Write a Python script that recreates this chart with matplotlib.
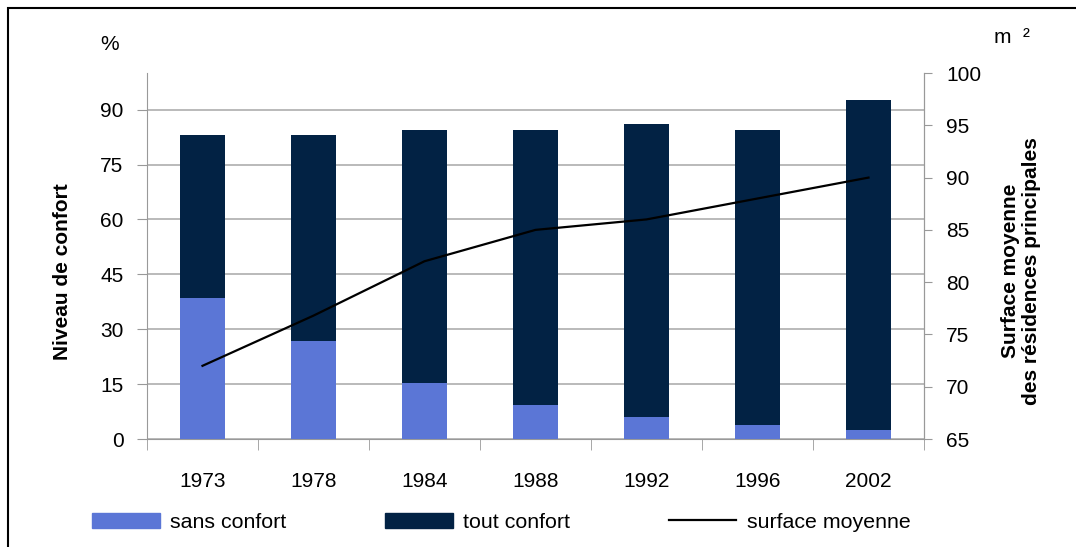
import matplotlib.pyplot as plt
from matplotlib.patches import Rectangle
from matplotlib.lines import Line2D
from matplotlib.patches import Patch
import numpy as np

plt.rcParams['font.family'] = ['Liberation Sans', 'DejaVu Sans']

years = ["1973", "1978", "1984", "1988", "1992", "1996", "2002"]
sans_confort = [38.6, 26.8, 15.3, 9.3, 6.0, 3.8, 2.5]
tout_confort = [44.6, 56.4, 69.2, 75.2, 80.2, 80.7, 90.2]
surface = [72, 76.8, 82, 85, 86, 88, 90]

light = "#5b76d6"
dark = "#022244"
grey = "#999999"
fs = 15

fig = plt.figure(figsize=(10.76, 5.47), dpi=100)
ax = fig.add_axes([147 / 1076, 0.1974, 777 / 1076, 0.6691])
ax2 = ax.twinx()

x = np.arange(len(years))
ax.bar(x, sans_confort, width=0.41, color=light, zorder=3)
ax.bar(x, tout_confort, width=0.41, bottom=sans_confort, color=dark, zorder=3)

ax.set_xlim(-0.5, len(years) - 0.5)
ax.set_ylim(0, 100)
ax.set_yticks(range(0, 91, 15))
ax.grid(axis="y", color="#b4b4b4", linewidth=1.3, zorder=0)
ax.set_axisbelow(True)

ax.set_xticks(x)
ax.set_xticklabels(years)
ax.tick_params(axis="x", which="major", length=0, pad=24, labelsize=fs)
ax.set_xticks(np.arange(-0.5, len(years), 1), minor=True)
ax.tick_params(axis="x", which="minor", length=8, color=grey, direction="out")
ax.tick_params(axis="y", length=7, color=grey, labelsize=fs, pad=10)

ax.spines["top"].set_visible(False)
ax2.spines["top"].set_visible(False)
for s in ["left", "bottom", "right"]:
    ax.spines[s].set_color(grey)
ax2.spines["right"].set_color(grey)
ax2.spines["left"].set_visible(False)
ax2.spines["bottom"].set_visible(False)

ax2.plot(x, surface, color="black", linewidth=1.6, zorder=5)
ax2.set_ylim(65, 100)
ax2.set_yticks(range(65, 101, 5))
ax2.tick_params(axis="y", length=6, color=grey, labelsize=fs, pad=10)

fig.text(0.058, 0.503, "Niveau de confort", rotation=90, fontsize=fs, fontweight="bold",
         ha="center", va="center")
fig.text(0.949, 0.504, "Surface moyenne\ndes résidences principales", rotation=90,
         fontsize=fs, fontweight="bold", ha="center", va="center", linespacing=1.15)
fig.text(0.093, 0.918, "%", fontsize=fs, ha="left", va="center")
fig.text(0.924, 0.932, "m  ²", fontsize=fs, ha="left", va="center")

handles = [Patch(color=light), Patch(color=dark), Line2D([0], [0], color="black", linewidth=1.6)]
fig.legend(handles, ["sans confort", "tout confort", "surface moyenne"], ncol=3,
           loc="center left", bbox_to_anchor=(0.068, 0.045), frameon=False, fontsize=15.4,
           handlelength=3.15, handleheight=0.7, handletextpad=0.5, columnspacing=4.6)

fig.add_artist(Rectangle((8 / 1076, -0.1), 1.2, 1 - 8 / 547 + 0.1, transform=fig.transFigure,
                         fill=False, edgecolor="black", linewidth=1.5))

fig.savefig("out.png", dpi=100)
